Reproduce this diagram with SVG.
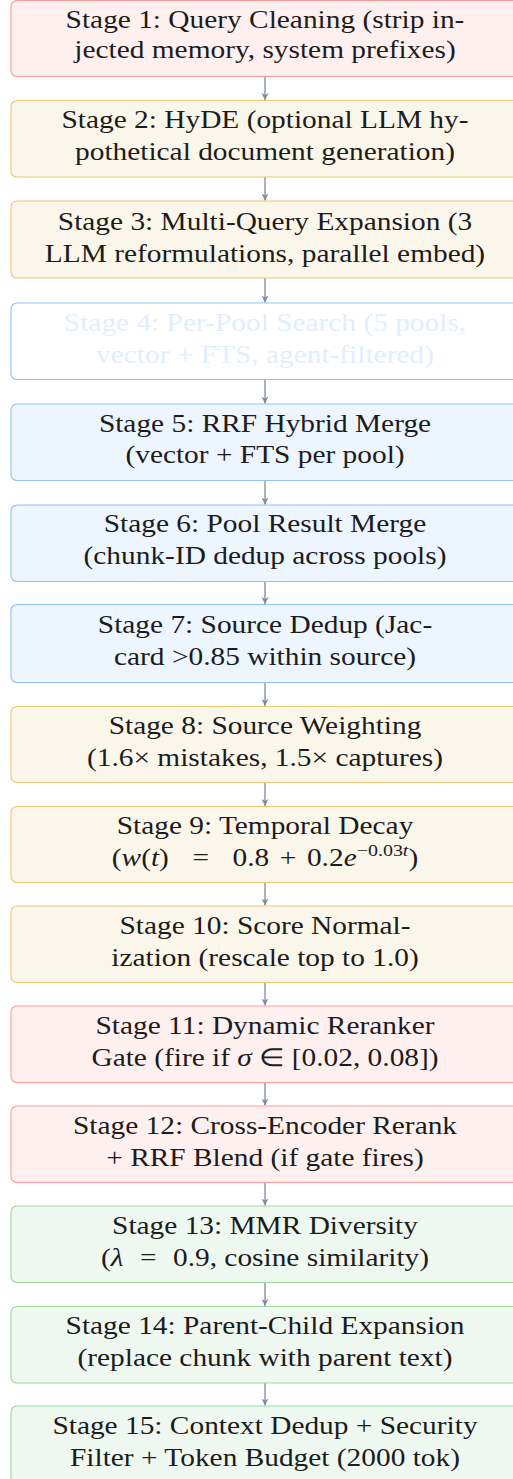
<svg xmlns="http://www.w3.org/2000/svg" width="513" height="1479" viewBox="0 0 513 1479">
<defs>
<marker id="ah" viewBox="0 0 10 10" refX="10" refY="5" markerWidth="7" markerHeight="7" markerUnits="userSpaceOnUse" orient="auto">
<path d="M0,0 L10,5 L0,10 L3,5 Z" fill="#7f8b9b"/>
</marker>
</defs>
<g id="connectors" stroke="#7f8b9b" stroke-width="1.3" marker-end="url(#ah)">
<line x1="265" y1="76.5" x2="265" y2="100"/>
<line x1="265" y1="177" x2="265" y2="200.5"/>
<line x1="265" y1="278" x2="265" y2="302.5"/>
<line x1="265" y1="379.5" x2="265" y2="403.5"/>
<line x1="265" y1="480.5" x2="265" y2="504.5"/>
<line x1="265" y1="581.5" x2="265" y2="604"/>
<line x1="265" y1="682.5" x2="265" y2="706"/>
<line x1="265" y1="783" x2="265" y2="806"/>
<line x1="265" y1="882.5" x2="265" y2="905.5"/>
<line x1="265" y1="982.5" x2="265" y2="1005.5"/>
<line x1="265" y1="1082.5" x2="265" y2="1105.5"/>
<line x1="265" y1="1182.5" x2="265" y2="1205.5"/>
<line x1="265" y1="1282.5" x2="265" y2="1306"/>
<line x1="265" y1="1383" x2="265" y2="1405.5"/>
</g>
<g id="nodes" font-family="Liberation Serif" font-size="25" fill="#1c1c1c" text-anchor="middle" stroke-width="1.1">
<g id="stage1">
<rect fill="#fff0f0" stroke="#ff9b9b" x="11" y="0.5" width="510" height="76" rx="6"/>
<g transform="matrix(1.175 0 0 1 265 0)">
<text x="0" y="28.5">Stage 1: Query Cleaning (strip in-</text>
<text x="0" y="58.5">jected memory, system prefixes)</text>
</g>
</g>
<g id="stage2">
<rect fill="#fbf6ea" stroke="#eec874" x="11" y="100.5" width="510" height="76.5" rx="6"/>
<g transform="matrix(1.175 0 0 1 265 0)">
<text x="0" y="128.5">Stage 2: HyDE (optional LLM hy-</text>
<text x="0" y="160">pothetical document generation)</text>
</g>
</g>
<g id="stage3">
<rect fill="#fbf6ea" stroke="#eec874" x="11" y="201" width="510" height="77" rx="6"/>
<g transform="matrix(1.175 0 0 1 265 0)">
<text x="0" y="230.5">Stage 3: Multi-Query Expansion (3</text>
<text x="0" y="262.5">LLM reformulations, parallel embed)</text>
</g>
</g>
<g id="stage4">
<rect fill="#ffffff" stroke="#8fc2f8" x="11" y="303" width="510" height="76.5" rx="6"/>
<g transform="matrix(1.175 0 0 1 265 0)" fill="#e2eefe">
<text x="0" y="331.5">Stage 4: Per-Pool Search (5 pools,</text>
<text x="0" y="363">vector + FTS, agent-filtered)</text>
</g>
</g>
<g id="stage5">
<rect fill="#edf5ff" stroke="#8fc2f8" x="11" y="404" width="510" height="76.5" rx="6"/>
<g transform="matrix(1.175 0 0 1 265 0)">
<text x="0" y="432">Stage 5: RRF Hybrid Merge</text>
<text x="0" y="463.5">(vector + FTS per pool)</text>
</g>
</g>
<g id="stage6">
<rect fill="#edf5ff" stroke="#8fc2f8" x="11" y="505" width="510" height="76.5" rx="6"/>
<g transform="matrix(1.175 0 0 1 265 0)">
<text x="0" y="532.5">Stage 6: Pool Result Merge</text>
<text x="0" y="564.5">(chunk-ID dedup across pools)</text>
</g>
</g>
<g id="stage7">
<rect fill="#edf5ff" stroke="#8fc2f8" x="11" y="604.5" width="510" height="78" rx="6"/>
<g transform="matrix(1.175 0 0 1 265 0)">
<text x="0" y="633">Stage 7: Source Dedup (Jac-</text>
<text x="0" y="665">card &gt;0.85 within source)</text>
</g>
</g>
<g id="stage8">
<rect fill="#fbf6ea" stroke="#eec874" x="11" y="706.5" width="510" height="76" rx="6"/>
<g transform="matrix(1.175 0 0 1 265 0)">
<text x="0" y="734">Stage 8: Source Weighting</text>
<text x="0" y="766">(1.6× mistakes, 1.5× captures)</text>
</g>
</g>
<g id="stage9">
<rect fill="#fbf6ea" stroke="#eec874" x="11" y="806.5" width="510" height="76" rx="6"/>
<g transform="matrix(1.175 0 0 1 265 0)">
<text x="0" y="834.5">Stage 9: Temporal Decay</text>
<text x="0" y="866">(<tspan font-style="italic">w</tspan>(<tspan font-style="italic">t</tspan>)<tspan dx="20">=</tspan><tspan dx="20">0.8</tspan><tspan dx="9">+</tspan><tspan dx="9">0.2</tspan><tspan font-style="italic">e</tspan><tspan font-size="17" dy="-10">−0.03</tspan><tspan font-size="17" font-style="italic">t</tspan><tspan dy="10">)</tspan></text>
</g>
</g>
<g id="stage10">
<rect fill="#fbf6ea" stroke="#eec874" x="11" y="906" width="510" height="76.5" rx="6"/>
<g transform="matrix(1.175 0 0 1 265 0)">
<text x="0" y="934">Stage 10: Score Normal-</text>
<text x="0" y="966">ization (rescale top to 1.0)</text>
</g>
</g>
<g id="stage11">
<rect fill="#fff0f0" stroke="#ff9b9b" x="11" y="1006" width="510" height="76.5" rx="6"/>
<g transform="matrix(1.175 0 0 1 265 0)">
<text x="0" y="1034">Stage 11: Dynamic Reranker</text>
<text x="0" y="1066">Gate (fire if <tspan font-style="italic">σ</tspan><tspan dx="6">∈</tspan><tspan dx="6">[0.02, 0.08])</tspan></text>
</g>
</g>
<g id="stage12">
<rect fill="#fff0f0" stroke="#ff9b9b" x="11" y="1106" width="510" height="76.5" rx="6"/>
<g transform="matrix(1.175 0 0 1 265 0)">
<text x="0" y="1134">Stage 12: Cross-Encoder Rerank</text>
<text x="0" y="1166">+ RRF Blend (if gate fires)</text>
</g>
</g>
<g id="stage13">
<rect fill="#eff8f0" stroke="#98d99d" x="11" y="1206" width="510" height="76.5" rx="6"/>
<g transform="matrix(1.175 0 0 1 265 0)">
<text x="0" y="1234">Stage 13: MMR Diversity</text>
<text x="0" y="1266">(<tspan font-style="italic">λ</tspan><tspan dx="14">=</tspan><tspan dx="14">0.9, cosine similarity)</tspan></text>
</g>
</g>
<g id="stage14">
<rect fill="#eff8f0" stroke="#98d99d" x="11" y="1306.5" width="510" height="76.5" rx="6"/>
<g transform="matrix(1.175 0 0 1 265 0)">
<text x="0" y="1334.5">Stage 14: Parent-Child Expansion</text>
<text x="0" y="1366.5">(replace chunk with parent text)</text>
</g>
</g>
<g id="stage15">
<rect fill="#eff8f0" stroke="#98d99d" x="11" y="1406" width="510" height="77" rx="6"/>
<g transform="matrix(1.175 0 0 1 265 0)">
<text x="0" y="1434">Stage 15: Context Dedup + Security</text>
<text x="0" y="1466">Filter + Token Budget (2000 tok)</text>
</g>
</g>
</g>
</svg>
